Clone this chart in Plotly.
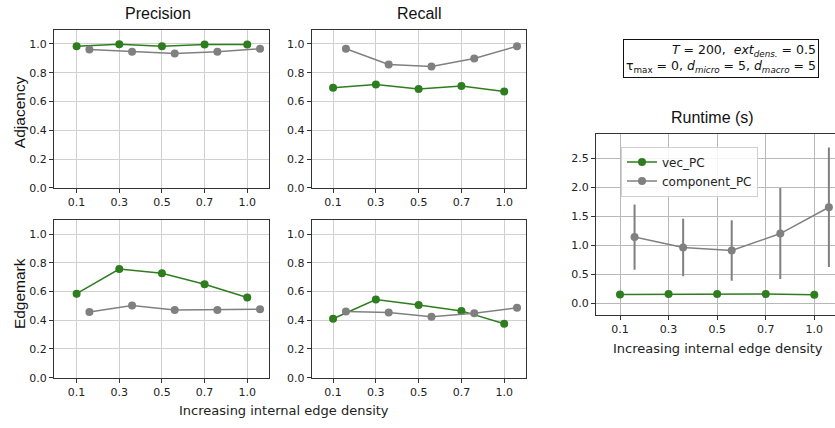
import numpy as np
import plotly.graph_objects as go

categories = ["0.1", "0.3", "0.5", "0.7", "1.0"]

adj_prec_vec = [0.984, 0.998, 0.984, 0.996, 0.996]
adj_prec_comp = [0.961, 0.945, 0.934, 0.945, 0.966]
adj_rec_vec = [0.695, 0.718, 0.686, 0.707, 0.670]
adj_rec_comp = [0.966, 0.857, 0.843, 0.898, 0.984]
edge_prec_vec = [0.585, 0.756, 0.727, 0.651, 0.558]
edge_prec_vec_err = [0.025, 0.012, 0.015, 0.02, 0.025]
edge_prec_comp = [0.458, 0.503, 0.472, 0.472, 0.476]
edge_rec_vec = [0.410, 0.544, 0.506, 0.465, 0.376]
edge_rec_comp = [0.460, 0.453, 0.424, 0.449, 0.487]
runtime_vec = [0.152, 0.158, 0.158, 0.158, 0.147]
runtime_comp = [1.14, 0.96, 0.909, 1.20, 1.653]
runtime_comp_err = [0.562, 0.494, 0.522, 0.784, 1.027]

GREEN = "#2e7d1e"
GRAY = "#808080"
comp_offset = 0.3
idx = np.arange(len(categories))

W, H = 835, 428
def px(x):
    return x / W
def py(y):
    return 1 - y / H

fig = go.Figure()

panels = [
    ("x", "y", adj_prec_vec, None, adj_prec_comp, None),
    ("x2", "y2", adj_rec_vec, None, adj_rec_comp, None),
    ("x3", "y3", edge_prec_vec, edge_prec_vec_err, edge_prec_comp, None),
    ("x4", "y4", edge_rec_vec, None, edge_rec_comp, None),
    ("x5", "y5", runtime_vec, None, runtime_comp, runtime_comp_err),
]

for i, (xa, ya, vv, ve, cv, ce) in enumerate(panels):
    show = (i == 4)
    fig.add_trace(go.Scatter(
        x=idx, y=vv, xaxis=xa, yaxis=ya, mode="lines+markers",
        name="vec_PC", showlegend=show,
        line=dict(color=GREEN, width=1.5), marker=dict(color=GREEN, size=8),
        error_y=dict(type="data", array=ve, color=GREEN, thickness=1.5, width=0, visible=ve is not None),
    ))
    fig.add_trace(go.Scatter(
        x=idx + comp_offset, y=cv, xaxis=xa, yaxis=ya, mode="lines+markers",
        name="component_PC", showlegend=show,
        line=dict(color=GRAY, width=1.5), marker=dict(color=GRAY, size=8),
        error_y=dict(type="data", array=ce, color=GRAY, thickness=2, width=0, visible=ce is not None),
    ))

tickfont = dict(family="DejaVu Sans", size=11, color="#222")
common_x = dict(tickmode="array", tickvals=list(idx), ticktext=categories,
                showgrid=True, gridcolor="#d0d0d0", gridwidth=1,
                showline=True, linecolor="#333", linewidth=1, mirror=True,
                ticks="outside", ticklen=4, tickcolor="#333", tickfont=tickfont,
                zeroline=False)
common_y = dict(tickmode="array", tickvals=[0, 0.2, 0.4, 0.6, 0.8, 1.0],
                ticktext=["0.0", "0.2", "0.4", "0.6", "0.8", "1.0"],
                range=[0, 1.1], showgrid=True, gridcolor="#d0d0d0", gridwidth=1,
                showline=True, linecolor="#333", linewidth=1, mirror=True,
                ticks="outside", ticklen=4, tickcolor="#333", tickfont=tickfont,
                zeroline=False)

dom_x1 = [px(54), px(269)]
dom_x2 = [px(311.7), px(526)]
dom_y1 = [py(191), py(30)]
dom_y2 = [py(384), py(223.3)]

fig.update_layout(
    width=W, height=H, margin=dict(l=0, r=0, t=0, b=0),
    plot_bgcolor="white", paper_bgcolor="white",
    xaxis=dict(common_x, domain=dom_x1, range=[-0.53, 4.51], anchor="y"),
    yaxis=dict(common_y, domain=dom_y1, anchor="x"),
    xaxis2=dict(common_x, domain=dom_x2, range=[-0.5, 4.51], anchor="y2"),
    yaxis2=dict(common_y, domain=dom_y1, anchor="x2"),
    xaxis3=dict(common_x, domain=dom_x1, range=[-0.53, 4.51], anchor="y3"),
    yaxis3=dict(common_y, domain=dom_y2, anchor="x3"),
    xaxis4=dict(common_x, domain=dom_x2, range=[-0.5, 4.51], anchor="y4"),
    yaxis4=dict(common_y, domain=dom_y2, anchor="x4"),
    xaxis5=dict(common_x, domain=[px(596), 1.0], range=[-0.494, 4.426], anchor="y5",
                gridcolor="#b8b8b8"),
    yaxis5=dict(common_y, domain=[py(320), py(136)], range=[-0.198, 2.918],
                tickvals=[0, 0.5, 1.0, 1.5, 2.0, 2.5],
                ticktext=["0.0", "0.5", "1.0", "1.5", "2.0", "2.5"],
                mirror=False, anchor="x5", gridcolor="#b8b8b8"),
    legend=dict(x=px(621), y=py(149), xanchor="left", yanchor="top",
                bgcolor="rgba(255,255,255,0.85)", bordercolor="#d0d0d0", borderwidth=1,
                font=dict(family="DejaVu Sans", size=12, color="#222"),
                tracegroupgap=0, itemwidth=30),
    showlegend=True,
)

fig.update_layout(xaxis5_mirror=True)

titlefont = dict(family="Liberation Sans", size=16, color="#111")
labelfont = dict(family="DejaVu Sans", size=13, color="#222")
ylabfont = dict(family="Liberation Sans", size=15.5, color="#111")
ann = [
    dict(text="Precision", x=px(157.5), y=py(14), font=titlefont),
    dict(text="Recall", x=px(419), y=py(14), font=titlefont),
    dict(text="Runtime (s)", x=px(712), y=py(119), font=titlefont),
    dict(text="Adjacency", x=px(19), y=py(114), textangle=-90, font=ylabfont),
    dict(text="Edgemark", x=px(19), y=py(299), textangle=-90, font=ylabfont),
    dict(text="Increasing internal edge density", x=px(284), y=py(417), font=labelfont),
    dict(text="Increasing internal edge density", x=px(718), y=py(354), font=labelfont),
]
for a in ann:
    fig.add_annotation(xref="paper", yref="paper", showarrow=False,
                       xanchor="center", yanchor="middle", **a)

fig.add_annotation(
    xref="paper", yref="paper", x=px(720.5), y=py(59.5), xanchor="center", yanchor="middle",
    showarrow=False, align="right",
    text=("<i>T</i> = 200,  <i>ext</i><sub><i>dens.</i></sub> = 0.5<br>"
          "τ<sub>max</sub> = 0, <i>d</i><sub><i>micro</i></sub> = 5, <i>d</i><sub><i>macro</i></sub> = 5"),
    font=dict(family="DejaVu Sans", size=12.5, color="#111"),
    bordercolor="#111", borderwidth=1, borderpad=2, bgcolor="white",
)

fig.write_html("out.html")
